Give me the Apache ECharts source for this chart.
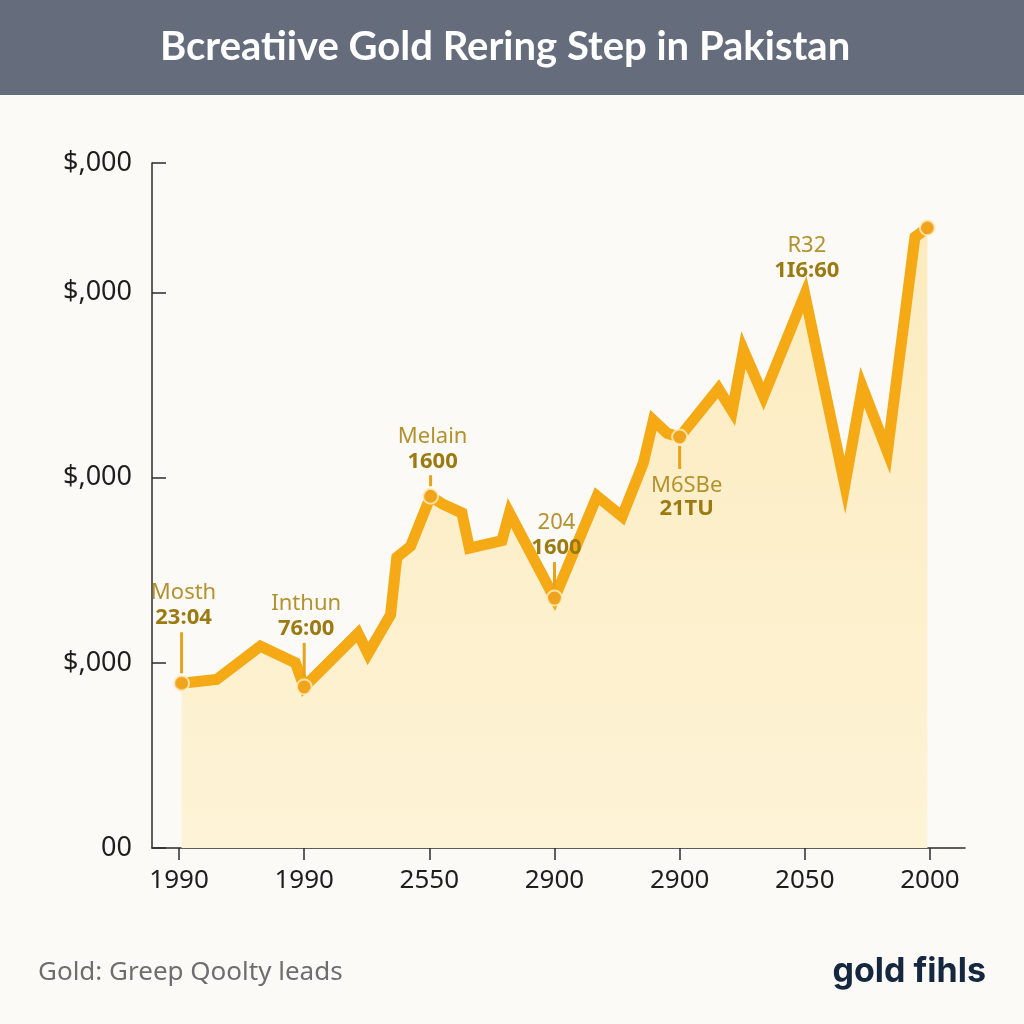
<!DOCTYPE html>
<html>
<head>
<meta charset="utf-8">
<style>
html,body{margin:0;padding:0;background:#FBFAF7;}
#chart{width:1024px;height:1024px;}
</style>
<script src="https://cdn.jsdelivr.net/npm/echarts@6/dist/echarts.min.js"></script>
</head>
<body>
<div id="chart"></div>
<script>
// ---- data (x in tick-index units, y in grid-step units) ----
var titleText = "Bcreatiive Gold Rering Step in Pakistan";
var footnoteText = "Gold: Greep Qoolty leads";
var brandText = "gold fihls";

var xTickValues = [0, 1, 2, 3, 4, 5, 6];
var xTickLabels = ["1990", "1990", "2550", "2900", "2900", "2050", "2000"];
var yTickValues = [0, 1, 2, 3, 3.7];
var yTickLabels = ["00", "$,000", "$,000", "$,000", "$,000"];

var pointX = [0.02, 0.30, 0.65, 0.93, 1.00, 1.43, 1.51, 1.69, 1.74, 1.85, 2.01, 2.10, 2.26, 2.32, 2.58, 2.64, 3.00,
              3.34, 3.54, 3.71, 3.79, 3.90, 4.00, 4.31, 4.42, 4.51, 4.67, 5.00, 5.32, 5.46, 5.66, 5.88, 5.98];
var pointY = [0.89, 0.91, 1.09, 1.00, 0.87, 1.16, 1.05, 1.26, 1.57, 1.63, 1.90, 1.86, 1.81, 1.62, 1.66, 1.81, 1.35,
              1.90, 1.79, 2.08, 2.31, 2.24, 2.22, 2.48, 2.36, 2.69, 2.44, 2.99, 1.96, 2.49, 2.14, 3.30, 3.35];

var markerIndex = [0, 4, 10, 16, 22, 32];
var dropLineIndex = [10, 27];

var annoIndex = [0, 4, 10, 16, 22, 27];
var annoNames = ["Mosth", "Inthun", "Melain", "204", "M6SBe", "R32"];
var annoValues = ["23:04", "76:00", "1600", "1600", "21TU", "1I6:60"];
// layout of annotation callouts (style, not data)
var annoBelow = [false, false, false, false, true, false];
var annoStem = [41, 34, 11, 26, 23, 0];

// ---- build ----
var lineData = pointX.map(function (x, i) { return [x, pointY[i]]; });
var markerData = markerIndex.map(function (i) { return [pointX[i], pointY[i]]; });
var annoData = annoIndex.map(function (i, k) { return [pointX[i], pointY[i], k]; });
var dropLines = dropLineIndex.map(function (i) {
  return [{ coord: [pointX[i], 0] }, { coord: [pointX[i], pointY[i]] }];
});

var axisFont = "'Noto Sans', 'DejaVu Sans', sans-serif";
var nameColor = "#B3922E", valueColor = "#9C7A12", stemColor = "#E9A21C";

var chart = echarts.init(document.getElementById('chart'), null, { renderer: 'canvas' });

var option = {
  backgroundColor: '#FBFAF7',
  animation: false,
  grid: { left: 152, right: 59, top: 163, bottom: 176, containLabel: false },
  xAxis: {
    type: 'value',
    min: -0.216,
    max: 6.28,
    splitLine: { show: false },
    axisLine: { show: true, onZero: false, lineStyle: { color: '#2b2b2b', width: 1.5 } },
    axisTick: { show: true, customValues: xTickValues, length: 12, lineStyle: { color: '#2b2b2b', width: 1.5 } },
    axisLabel: {
      customValues: xTickValues,
      margin: 20,
      fontSize: 26,
      color: '#1e1e1e',
      fontFamily: axisFont,
      formatter: function (v) {
        var k = xTickValues.indexOf(Math.round(v));
        return k >= 0 ? xTickLabels[k] : '';
      }
    }
  },
  yAxis: {
    type: 'value',
    min: 0,
    max: 3.7,
    splitLine: { show: false },
    axisLine: { show: true, onZero: false, lineStyle: { color: '#2b2b2b', width: 1.5 } },
    axisTick: { show: true, inside: true, customValues: yTickValues, length: 14, lineStyle: { color: '#2b2b2b', width: 1.5 } },
    axisLabel: {
      customValues: yTickValues,
      margin: 20,
      fontSize: 27,
      color: '#1e1e1e',
      fontFamily: axisFont,
      formatter: function (v) {
        for (var k = 0; k < yTickValues.length; k++) {
          if (Math.abs(yTickValues[k] - v) < 1e-6) return yTickLabels[k];
        }
        return '';
      }
    }
  },
  graphic: [
    { type: 'rect', left: 0, top: 0, z: -1, shape: { width: 1024, height: 95 }, style: { fill: '#656C7C' } },
    {
      type: 'text', left: 160, top: 27,
      style: { text: titleText, fill: '#ffffff', font: "bold 40px 'Lato', 'Open Sans', sans-serif" }
    },
    {
      type: 'text', left: 38, top: 960,
      style: { text: footnoteText, fill: '#6e6e6e', font: "26px 'Noto Sans', sans-serif" }
    },
    {
      type: 'text', right: 38, top: 955,
      style: { text: brandText, fill: '#15283F', font: "bold 34px 'Inter', 'Open Sans', sans-serif" }
    }
  ],
  series: [
    {
      type: 'line',
      data: lineData,
      showSymbol: false,
      symbol: 'none',
      z: 3,
      lineStyle: { color: '#F5A915', width: 11, join: 'miter', cap: 'round' },
      areaStyle: {
        color: new echarts.graphic.LinearGradient(0, 0, 0, 1, [
          { offset: 0, color: '#FCEBBE' },
          { offset: 1, color: '#FDF3D6' }
        ]),
        opacity: 1
      },
      markLine: {
        silent: true,
        symbol: ['none', 'none'],
        label: { show: false },
        lineStyle: { color: '#D8CBA6', type: 'dashed', width: 1 },
        data: dropLines,
        z: 2
      }
    },
    {
      type: 'scatter',
      data: markerData,
      symbol: 'circle',
      symbolSize: 15,
      z: 5,
      itemStyle: { color: '#EFA21E', borderColor: '#FFEFC7', borderWidth: 2 }
    },
    {
      type: 'custom',
      data: annoData,
      z: 6,
      renderItem: function (params, api) {
        var p = api.coord([api.value(0), api.value(1)]);
        var k = api.value(2);
        var children = [];
        var stem = annoStem[k];
        if (!annoBelow[k]) {
          var bottom = p[1] - 10;
          var top = bottom - stem;
          if (stem > 0) {
            children.push({ type: 'line', shape: { x1: p[0], y1: bottom, x2: p[0], y2: top },
              style: { stroke: stemColor, lineWidth: 3 } });
          }
          children.push({ type: 'text', style: { x: p[0] + 2, y: top - 14, text: annoValues[k], fill: valueColor,
            font: "bold 22px 'Noto Sans', sans-serif", align: 'center', verticalAlign: 'middle' } });
          children.push({ type: 'text', style: { x: p[0] + 2, y: top - 39, text: annoNames[k], fill: nameColor,
            font: "22px 'Noto Sans', sans-serif", align: 'center', verticalAlign: 'middle' } });
        } else {
          var top2 = p[1] + 9;
          var bottom2 = top2 + stem;
          children.push({ type: 'line', shape: { x1: p[0], y1: top2, x2: p[0], y2: bottom2 },
            style: { stroke: stemColor, lineWidth: 3 } });
          children.push({ type: 'text', style: { x: p[0] + 7, y: bottom2 + 17, text: annoNames[k], fill: nameColor,
            font: "22px 'Noto Sans', sans-serif", align: 'center', verticalAlign: 'middle' } });
          children.push({ type: 'text', style: { x: p[0] + 7, y: bottom2 + 40, text: annoValues[k], fill: valueColor,
            font: "bold 22px 'Noto Sans', sans-serif", align: 'center', verticalAlign: 'middle' } });
        }
        return { type: 'group', children: children };
      }
    }
  ]
};
chart.setOption(option);
</script>
</body>
</html>
